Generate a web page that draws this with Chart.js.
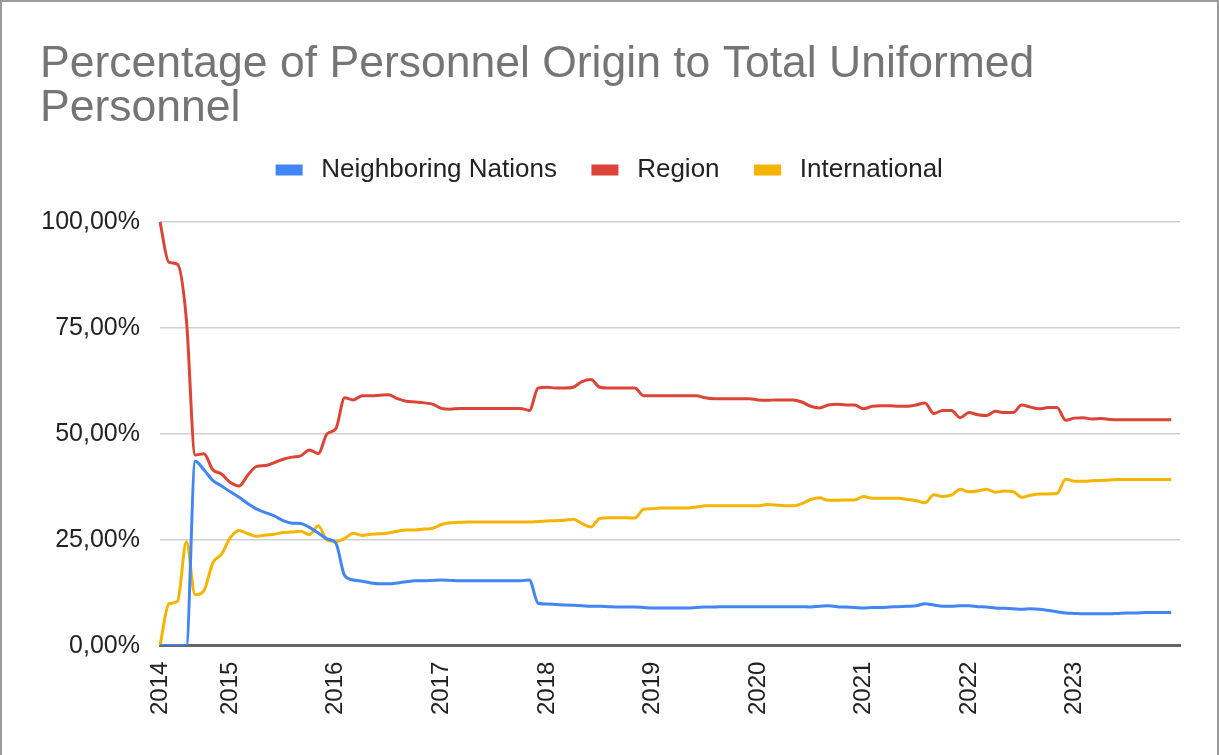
<!DOCTYPE html>
<html>
<head>
<meta charset="utf-8">
<script src="https://cdn.jsdelivr.net/npm/chart.js"></script>
<style>
html, body { margin: 0; padding: 0; background: #fff; }
#frame { position: relative; width: 1219px; height: 755px; box-sizing: border-box;
         border-top: 2px solid #9a9a9a; border-left: 2px solid #9a9a9a; border-right: 2px solid #9a9a9a; }
</style>
</head>
<body>
<div id="frame"><canvas id="chart"></canvas></div>
<script>
// monthly series, May 2014 .. Dec 2023
var startYear = 2014, startMonth = 5;
var seriesNames = ['Neighboring Nations', 'Region', 'International'];
var seriesColors = ['#4285f4', '#db4437', '#f4b400'];

var neighboring = [
  0, 0, 0, 0, 43.5, 41.5, 39, 37.7, 36.3, 35, 33.5, 32.2, 31.4, 30.6, 29.5, 28.9, 28.8, 27.9, 26.6, 25.2,
  24.2, 16.5, 15.5, 15.2, 14.8, 14.6, 14.6, 14.8, 15.1, 15.3, 15.3, 15.4, 15.5, 15.4, 15.3, 15.3, 15.3, 15.3, 15.3, 15.3,
  15.3, 15.3, 15.5, 10, 9.8, 9.7, 9.6, 9.5, 9.4, 9.3, 9.3, 9.2, 9.1, 9.1, 9.1, 9.0, 8.9, 8.9, 8.9, 8.9,
  8.9, 9.0, 9.1, 9.1, 9.2, 9.2, 9.2, 9.2, 9.2, 9.2, 9.2, 9.2, 9.2, 9.2, 9.1, 9.3, 9.4, 9.2, 9.1, 9.0,
  8.9, 9.0, 9.0, 9.1, 9.2, 9.3, 9.4, 9.9, 9.6, 9.3, 9.3, 9.4, 9.4, 9.2, 9.1, 8.9, 8.8, 8.7, 8.6, 8.7,
  8.6, 8.3, 8.0, 7.7, 7.6, 7.5, 7.5, 7.5, 7.5, 7.6, 7.7, 7.7, 7.8, 7.8, 7.8, 7.8
];
var region = [
  100, 90.5, 90, 77, 45, 45.3, 41.5, 40.5, 38.5, 37.7, 40.3, 42.3, 42.5, 43.2, 44, 44.5, 44.8, 46.2, 45.3, 50,
  51.2, 58.5, 58, 59, 59, 59.1, 59.2, 58.3, 57.7, 57.5, 57.3, 57, 56, 55.8, 56, 56, 56, 56, 56, 56,
  56, 56, 55.5, 60.8, 61, 60.8, 60.8, 61, 62.3, 62.8, 61, 60.8, 60.8, 60.8, 60.8, 59, 59, 59, 59, 59,
  59, 59, 58.5, 58.3, 58.3, 58.3, 58.3, 58.3, 58, 57.9, 58, 58, 58, 57.5, 56.5, 56.1, 56.8, 57, 56.8, 56.8,
  55.9, 56.5, 56.6, 56.6, 56.5, 56.5, 56.8, 57.3, 54.8, 55.5, 55.5, 53.8, 55, 54.5, 54.3, 55.3, 55, 55, 56.8, 56.3,
  55.9, 56.2, 56.2, 53.2, 53.7, 53.8, 53.5, 53.6, 53.4, 53.3, 53.3, 53.3, 53.3, 53.3, 53.3, 53.3
];
var international = [
  0, 9.8, 10.5, 24.5, 12, 13, 19.5, 21.6, 25.5, 27.2, 26.4, 25.8, 26.1, 26.3, 26.7, 26.8, 27, 26.2, 28.3, 24.9,
  24.6, 25.3, 26.5, 26, 26.3, 26.4, 26.6, 27, 27.3, 27.3, 27.5, 27.7, 28.6, 29, 29.1, 29.2, 29.2, 29.2, 29.2, 29.2,
  29.2, 29.2, 29.2, 29.3, 29.4, 29.5, 29.6, 29.8, 28.8, 28, 30, 30.2, 30.2, 30.2, 30.1, 32.2, 32.3, 32.5, 32.5, 32.5,
  32.5, 32.7, 33, 33, 33, 33, 33, 33, 33, 33.3, 33.2, 33, 33, 33.5, 34.5, 34.9, 34.3, 34.3, 34.4, 34.4,
  35.2, 34.8, 34.8, 34.8, 34.8, 34.5, 34.2, 33.7, 35.6, 35.2, 35.5, 36.9, 36.3, 36.5, 36.9, 36.2, 36.5, 36.4, 35, 35.5,
  35.8, 35.8, 35.9, 39.3, 38.8, 38.8, 38.9, 39, 39.1, 39.2, 39.2, 39.2, 39.2, 39.2, 39.2, 39.2
];
var yTicks = [0, 25, 50, 75, 100];

var months = [];
for (var i = 0; i < region.length; i++) {
  var m = startMonth - 1 + i;
  var y = startYear + Math.floor(m / 12);
  var mm = (m % 12) + 1;
  months.push(y + '-' + (mm < 10 ? '0' + mm : mm));
}
months.push(''); // small gap after the last month, like the original

var fontFamily = '"Liberation Sans", Arial, Helvetica, sans-serif';
var allSeries = [neighboring, region, international];

// push the plot down a bit below the legend
var legendGap = {
  id: 'legendGap',
  beforeInit: function (chart) {
    var fit = chart.legend.fit;
    chart.legend.fit = function () {
      fit.bind(chart.legend)();
      this.height += 29;
    };
  }
};

var ctx = document.getElementById('chart').getContext('2d');
var myChart = new Chart(ctx, {
  type: 'line',
  data: {
    labels: months,
    datasets: seriesNames.map(function (name, k) {
      return {
        label: name,
        data: allSeries[k],
        borderColor: seriesColors[k],
        backgroundColor: seriesColors[k],
        borderWidth: 3,
        pointRadius: 0,
        cubicInterpolationMode: 'monotone',
        fill: false
      };
    })
  },
  options: {
    responsive: true,
    maintainAspectRatio: false,
    animation: false,
    layout: { padding: { left: 38, right: 37, top: 0, bottom: 32 } },
    plugins: {
      title: {
        display: true,
        text: ['Percentage of Personnel Origin to Total Uniformed', 'Personnel'],
        align: 'start',
        color: '#757575',
        font: { family: fontFamily, size: 44.5, weight: 'normal', lineHeight: 1.0 },
        padding: { top: 40, bottom: -10 }
      },
      legend: {
        display: true,
        position: 'top',
        labels: {
          boxWidth: 24,
          boxHeight: 8,
          padding: 36,
          color: '#222',
          font: { family: fontFamily, size: 26 },
          generateLabels: function (chart) {
            var items = Chart.defaults.plugins.legend.labels.generateLabels(chart);
            items.forEach(function (it) { it.text = ' ' + it.text; });
            return items;
          }
        }
      },
      tooltip: { enabled: false }
    },
    scales: {
      x: {
        type: 'category',
        grid: { display: false },
        border: { display: true, color: '#666', width: 3 },
        ticks: {
          autoSkip: false,
          maxRotation: 90,
          minRotation: 90,
          padding: 8,
          color: '#222',
          font: { family: fontFamily, size: 24 },
          callback: function (value, index) {
            var lab = this.getLabelForValue(value);
            if (!lab) return '';
            if (index === 0 || lab.slice(5) === '01') return lab.slice(0, 4);
            return '';
          }
        }
      },
      y: {
        min: 0,
        max: 100,
        afterBuildTicks: function (axis) {
          axis.ticks = yTicks.map(function (v) { return { value: v }; });
        },
        afterFit: function (axis) { axis.width = 120; },
        grid: { color: '#d0d0d0', lineWidth: 1.5, drawTicks: false },
        border: { display: false },
        ticks: {
          padding: 20,
          color: '#222',
          font: { family: fontFamily, size: 25 },
          callback: function (v) { return v.toFixed(2).replace('.', ',') + '%'; }
        }
      }
    }
  },
  plugins: [legendGap]
});
</script>
</body>
</html>
